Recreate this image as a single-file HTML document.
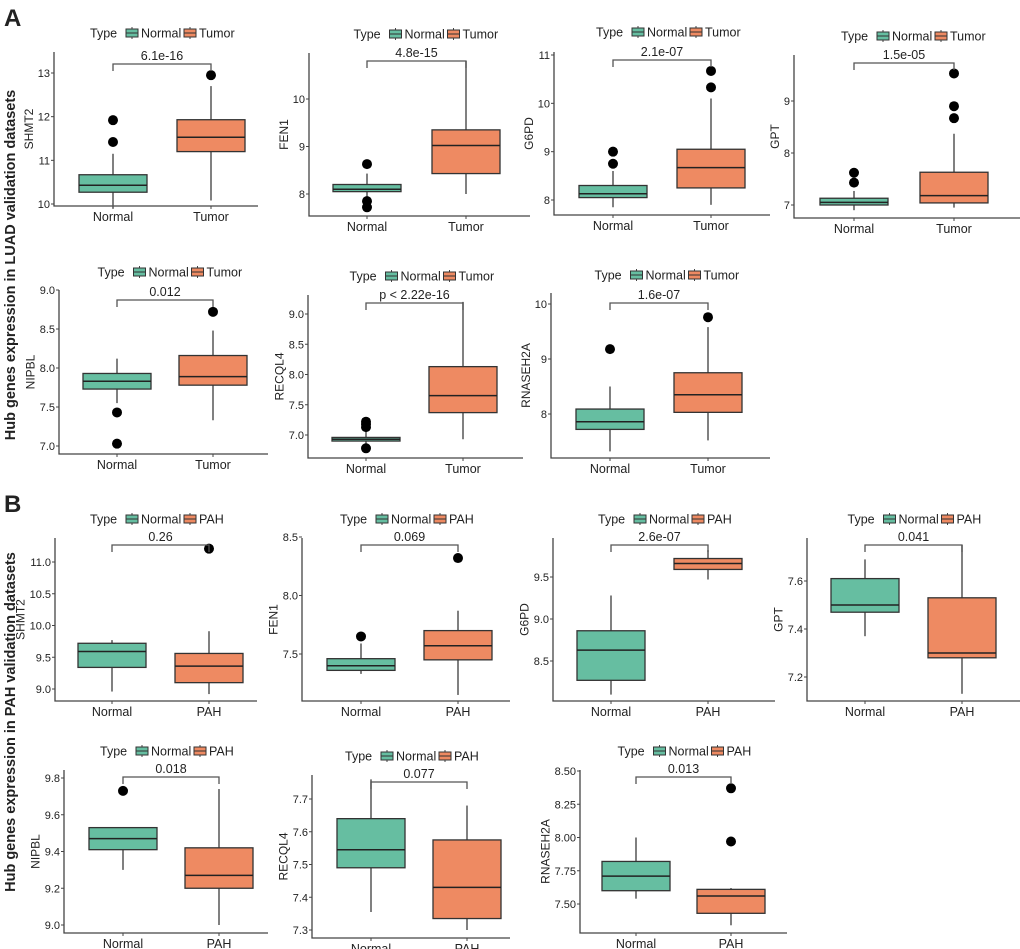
<!DOCTYPE html>
<html><head><meta charset="utf-8"><style>
html,body{margin:0;padding:0;background:#fff;}
svg{display:block;font-family:"Liberation Sans",Arial,sans-serif;}
</style></head><body>
<svg id="fig" width="1020" height="949" viewBox="0 0 1020 949" xmlns="http://www.w3.org/2000/svg">
<text x="4" y="26" font-size="24" font-weight="bold" fill="#222">A</text>
<text x="4" y="512" font-size="24" font-weight="bold" fill="#222">B</text>
<text transform="translate(15,265) rotate(-90)" text-anchor="middle" font-size="14.5" font-weight="bold" fill="#222">Hub genes expression in LUAD validation datasets</text>
<text transform="translate(15,722) rotate(-90)" text-anchor="middle" font-size="14.5" font-weight="bold" fill="#222">Hub genes expression in PAH validation datasets</text>
</svg>
<script>
// ---- data ----
const genes = ["SHMT2","FEN1","G6PD","GPT","NIPBL","RECQL4","RNASEH2A","SHMT2","FEN1","G6PD","GPT","NIPBL","RECQL4","RNASEH2A"];
const groupB = ["Tumor","Tumor","Tumor","Tumor","Tumor","Tumor","Tumor","PAH","PAH","PAH","PAH","PAH","PAH","PAH"];
const pLabels = ["6.1e-16","4.8e-15","2.1e-07","1.5e-05","0.012","p < 2.22e-16","1.6e-07","0.26","0.069","2.6e-07","0.041","0.018","0.077","0.013"];
// [lower whisker, q1, median, q3, upper whisker]
const normalStats = [
 [9.9,10.27,10.43,10.67,11.15],[7.9,8.05,8.1,8.2,8.43],[7.85,8.05,8.13,8.3,8.6],[6.9,7.0,7.05,7.13,7.27],
 [7.55,7.73,7.83,7.93,8.12],[6.85,6.9,6.93,6.96,7.1],[7.32,7.72,7.86,8.09,8.5],
 [8.96,9.34,9.59,9.72,9.77],[7.33,7.36,7.4,7.46,7.59],[8.1,8.27,8.63,8.86,9.28],[7.37,7.47,7.5,7.61,7.69],
 [9.3,9.41,9.47,9.53,9.53],[7.355,7.49,7.545,7.64,7.76],[7.54,7.6,7.71,7.82,8.0]];
const caseStats = [
 [10.08,11.2,11.53,11.93,12.7],[8.0,8.43,9.02,9.35,10.8],[7.9,8.25,8.67,9.05,10.1],[6.95,7.04,7.18,7.63,8.37],
 [7.33,7.78,7.89,8.16,8.48],[6.93,7.37,7.65,8.13,9.2],[7.52,8.03,8.35,8.75,9.58],
 [8.92,9.1,9.36,9.56,9.91],[7.15,7.45,7.57,7.7,7.87],[9.47,9.59,9.66,9.72,9.82],[7.13,7.28,7.3,7.53,7.75],
 [9.0,9.2,9.27,9.42,9.74],[7.3,7.335,7.43,7.575,7.68],[7.34,7.43,7.56,7.61,7.62]];
const normalOut = [[11.42,11.92],[8.63,7.85,7.72],[8.75,9.0],[7.43,7.62],[7.43,7.03],[7.13,7.18,7.22,6.78],[9.18],
 [],[7.65],[],[],[9.73],[],[]];
const caseOut = [[12.95],[],[10.33,10.67],[8.67,8.9,9.53],[8.72],[],[9.76],
 [11.21],[8.32],[],[],[],[],[7.97,8.37]];
const tickLabels = [["10","11","12","13"],["8","9","10"],["8","9","10","11"],["7","8","9"],
 ["7.0","7.5","8.0","8.5","9.0"],["7.0","7.5","8.0","8.5","9.0"],["8","9","10"],
 ["9.0","9.5","10.0","10.5","11.0"],["7.5","8.0","8.5"],["8.5","9.0","9.5"],["7.2","7.4","7.6"],
 ["9.0","9.2","9.4","9.6","9.8"],["7.3","7.4","7.5","7.6","7.7"],["7.50","7.75","8.00","8.25","8.50"]];
// ---- layout (pixels): x0,x1,yTop,yBot, refValA,refYA,refValB,refYB, cxN,cxT, bracketY, legendY
const layout = [
 [54,258,52,206, 10,204,13,73, 113,211, 64,33],
 [309,530,53,216, 8,194,10,99, 367,466, 61,34],
 [554,770,52,215, 8,200,11,55, 613,711, 60,32],
 [794,1020,55,218, 7,205,9,101, 854,954, 63,36],
 [59,268,290,454, 7,446,9,290, 117,213, 300,272],
 [308,523,295,458, 7,435,9,314, 366,463, 303,276],
 [551,770,293,458, 8,414,10,304, 610,708, 303,275],
 [55,257,538,701, 9,689,11,562, 112,209, 545,519],
 [302,510,538,701, 7.5,654,8.5,537, 361,458, 545,519],
 [553,775,538,701, 8.5,661,9.5,577, 611,708, 545,519],
 [807,1020,538,701, 7.2,677,7.6,581, 865,962, 545,519],
 [64,268,770,933, 9,925,9.8,778, 123,219, 777,751],
 [312,510,775,938, 7.3,930,7.7,799, 371,467, 782,756],
 [580,787,770,933, 7.5,904,8.5,771, 636,731, 777,751]];
const GREEN="#66bea1", ORANGE="#ee8a62", NS="http://www.w3.org/2000/svg";
const svg=document.getElementById('fig');
function mk(tag,attrs,parent){const e=document.createElementNS(NS,tag);for(const k in attrs)e.setAttribute(k,attrs[k]);(parent||svg).appendChild(e);return e;}
genes.forEach((g,i)=>{
 const L=layout[i];
 const [x0,x1,yT,yB,va,ya,vb,yb,cxN,cxT,brY,lgY]=L;
 const y=v=>ya+(v-va)*(yb-ya)/(vb-va);
 const grp=mk('g',{});
 
 
 const ax=mk('path',{d:`M${x0},${yT}V${yB}H${x1}`,stroke:'#444','stroke-width':1.3,fill:'none'},grp);
 
 
 let maxW=0;
 tickLabels[i].forEach(t=>{
  const v=parseFloat(t),yy=y(v);
  const w=t.replace('.','').length*6.1+(t.includes('.')?3.1:0);
  maxW=Math.max(maxW,w);
  mk('line',{x1:x0-3,x2:x0,y1:yy,y2:yy,stroke:'#444','stroke-width':1},grp);
  const tl=mk('text',{x:x0-4,y:yy+4,'text-anchor':'end','font-size':11,fill:'#222'},grp);
  tl.textContent=t;
  
  
 });
 const ytx=x0-4-maxW-5;
 const yt=mk('text',{transform:`translate(${ytx},${(yT+yB)/2}) rotate(-90)`,'text-anchor':'middle','font-size':12,fill:'#222'},grp);
 yt.textContent=g;
 
 
 [[cxN,'Normal'],[cxT,groupB[i]]].forEach(([cx,lab])=>{
  mk('line',{x1:cx,x2:cx,y1:yB,y2:yB+3,stroke:'#444'},grp);
  const xl=mk('text',{x:cx,y:yB+15,'text-anchor':'middle','font-size':12.5,fill:'#222'},grp);
  xl.textContent=lab;
  
  
 });
 [[cxN,normalStats[i],normalOut[i],GREEN,'normal'],[cxT,caseStats[i],caseOut[i],ORANGE,'case']].forEach(([cx,s,out,col,nm])=>{
  const w=68;
  mk('line',{x1:cx,x2:cx,y1:y(s[0]),y2:y(s[1]),stroke:'#555','stroke-width':1.5},grp);
  mk('line',{x1:cx,x2:cx,y1:y(s[3]),y2:y(s[4]),stroke:'#555','stroke-width':1.5},grp);
  const r=mk('rect',{x:cx-w/2,y:y(s[3]),width:w,height:Math.max(1,y(s[1])-y(s[3])),fill:col,stroke:'#333','stroke-width':1.3},grp);
  
  
  mk('line',{x1:cx-w/2,x2:cx+w/2,y1:y(s[2]),y2:y(s[2]),stroke:'#222','stroke-width':1.5},grp);
  out.forEach(v=>{
   const c=mk('circle',{cx:cx,cy:y(v),r:5,fill:'#000'},grp);
   
   
  });
 });
 mk('path',{d:`M${cxN},${brY+7}V${brY}H${cxT}V${brY+7}`,stroke:'#555','stroke-width':1.3,fill:'none'},grp);
 const pl=mk('text',{x:(cxN+cxT)/2,y:brY-4,'text-anchor':'middle','font-size':12.5,fill:'#222'},grp);
 pl.textContent=pLabels[i];
 
 
 const lg=mk('g',{},grp);
 
 
 let lx=(x0+x1)/2-66;
 const t0=mk('text',{x:lx,y:lgY+4.5,'font-size':12.5,fill:'#222'},lg); t0.textContent='Type'; lx+=36;
 [[GREEN,'Normal'],[ORANGE,groupB[i]]].forEach(([col,lab])=>{
  mk('line',{x1:lx+6,x2:lx+6,y1:lgY-6,y2:lgY+6,stroke:'#444'},lg);
  mk('rect',{x:lx,y:lgY-4,width:12,height:8,fill:col,stroke:'#333','stroke-width':1},lg);
  mk('line',{x1:lx,x2:lx+12,y1:lgY,y2:lgY,stroke:'#333'},lg);
  const tt=mk('text',{x:lx+15,y:lgY+4.5,'font-size':12.5,fill:'#222'},lg); tt.textContent=lab;
  lx+=15+(lab==='Normal'?43:38);
 });
});
</script>
</body></html>
